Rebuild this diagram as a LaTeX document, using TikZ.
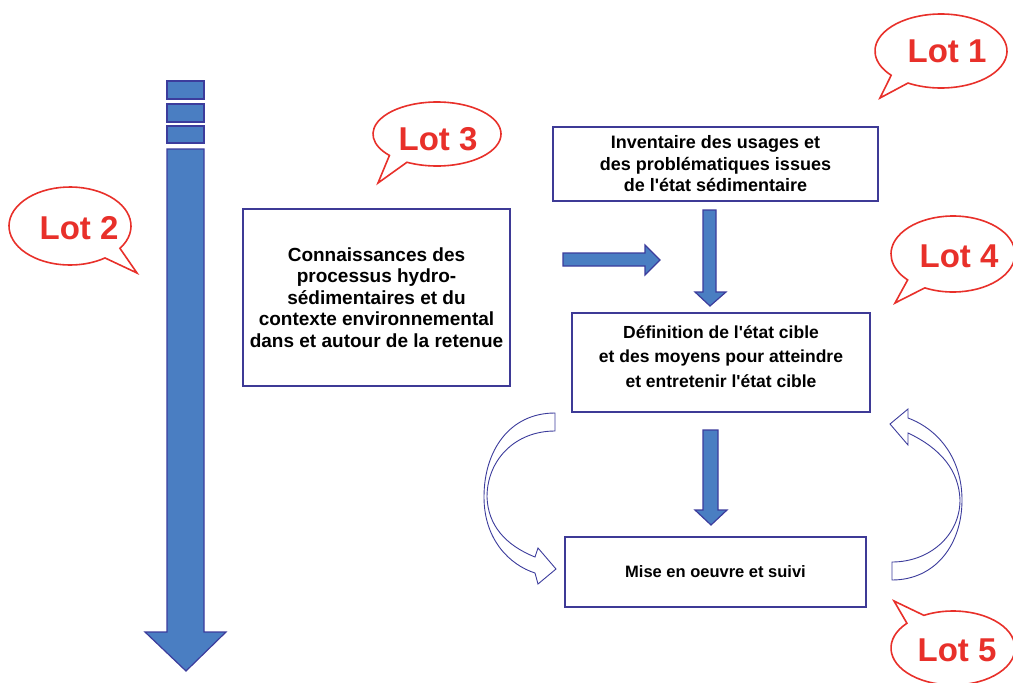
\documentclass[tikz,border=0pt]{standalone}
\usepackage{fontspec}
\setmainfont{Liberation Sans}
\usetikzlibrary{calc}
\definecolor{arrowfill}{RGB}{74,126,194}
\definecolor{arrowline}{RGB}{60,60,156}
\definecolor{boxline}{RGB}{62,58,150}
\definecolor{lotred}{RGB}{232,48,42}
\newcommand{\ap}{\textquotesingle}
% center x, center y, rx, ry, start angle, end angle, tip x, tip y
\newcommand{\lotbubble}[8]{%
  \draw[bubble] ([shift={(#5:#3pt and #4pt)}]#1,#2)
    arc[start angle=#5,end angle=#6,x radius=#3pt,y radius=#4pt] -- (#7,#8) -- cycle;}
\begin{document}
\begin{tikzpicture}[x=1pt,y=-1pt,
  textbox/.style={draw=boxline,line width=1.3pt,fill=white,inner sep=0pt,align=center,
    font=\fontsize{18}{21.5}\selectfont\bfseries},
  plaintext/.style={inner sep=0pt,align=center},
  blockarrow/.style={fill=arrowfill,draw=arrowline,line width=1.2pt,line join=miter},
  curvedarrow/.style={draw=arrowline,line width=0.9pt,fill=white,line join=miter},
  bubble/.style={draw=lotred,line width=1.6pt,fill=white,line join=miter},
  lottext/.style={text=lotred,font=\fontsize{33}{33}\selectfont\bfseries,inner sep=0pt}]
\useasboundingbox (0,0) rectangle (1013,683);

% Big left arrow
\foreach \ya/\yb in {81/99,104/122,126/143}
  \draw[blockarrow] (167,\ya) rectangle (204,\yb);
\draw[blockarrow] (167,149) -- (204,149) -- (204,632) -- (226,632) -- (186,671)
  -- (145,632) -- (167,632) -- cycle;

% Boxes
\node[textbox,minimum width=267pt,minimum height=177pt,
  font=\fontsize{19}{21.5}\selectfont\bfseries] (conn) at (376.5,297.5)
  {Connaissances des\\processus hydro-\\sédimentaires et du\\contexte environnemental\\dans et autour de la retenue};
\node[textbox,minimum width=325pt,minimum height=74pt] (inv) at (715.5,164)
  {Inventaire des usages et\\des problématiques issues\\de l\ap état sédimentaire};
\node[textbox,minimum width=298pt,minimum height=99pt] (def) at (721,362.5) {};
\node[plaintext,font=\fontsize{17.5}{24.5}\selectfont\bfseries] (deftext)
  at ($(def.center)+(0,-6)$)
  {Définition de l\ap état cible\\et des moyens pour atteindre\\et entretenir l\ap état cible};
\node[textbox,minimum width=301pt,minimum height=70pt,
  font=\fontsize{16.5}{20}\selectfont\bfseries] (mise) at (715.5,572)
  {Mise en oeuvre et suivi};

% Horizontal arrow
\draw[blockarrow] (563,253) -- (645,253) -- (645,245) -- (660,260) -- (645,275)
  -- (645,266) -- (563,266) -- cycle;
% Vertical arrow 1
\draw[blockarrow] (703,210) -- (716,210) -- (716,292) -- (726,292) -- (710,306)
  -- (695,292) -- (703,292) -- cycle;
% Vertical arrow 2
\draw[blockarrow] (703,430) -- (718,430) -- (718,510) -- (727,510) -- (711,525)
  -- (695,510) -- (703,510) -- cycle;

% Left curved arrow
\draw[curvedarrow] (555,413) .. controls (510,413) and (484,450) .. (484,497)
  .. controls (484,540) and (510,565) .. (535,573)
  -- (538,584) -- (556,569) -- (538,548) -- (535,557)
  .. controls (505,545) and (488,525) .. (487,497)
  .. controls (487,460) and (515,431) .. (555,431) -- cycle;
% Right curved arrow
\draw[curvedarrow] (892,580) .. controls (935,580) and (962,545) .. (962,500)
  .. controls (962,460) and (940,430) .. (908,418)
  -- (908,409) -- (890,424) -- (908,445) -- (908,433)
  .. controls (940,448) and (959,470) .. (960,500)
  .. controls (960,535) and (930,562) .. (892,562) -- cycle;

% Speech bubbles
\lotbubble{941}{51}{66}{37}{240}{581}{880}{98}
\node[lottext] (lot1) at (947,51) {Lot 1};
\lotbubble{437}{134}{64}{32}{242}{582}{378}{183}
\node[lottext] (lot3) at (438,139) {Lot 3};
\lotbubble{70}{226}{61}{39}{-35}{305}{137}{273}
\node[lottext] (lot2) at (79,228) {Lot 2};
\lotbubble{953}{254}{62}{38}{243}{583}{895}{303}
\node[lottext] (lot4) at (959,256) {Lot 4};
\lotbubble{953}{648}{62}{37}{138}{478}{894}{601}
\node[lottext] (lot5) at (957,650) {Lot 5};
\end{tikzpicture}
\end{document}
